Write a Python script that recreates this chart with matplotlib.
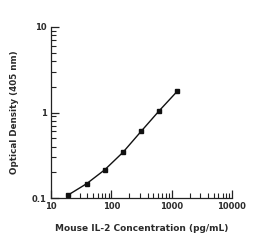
import numpy as np
import matplotlib
matplotlib.use("Agg")
import matplotlib.pyplot as plt
from matplotlib.ticker import LogLocator, NullFormatter, FixedLocator, FixedFormatter

# standard curve (pg/mL vs OD 405 nm)
conc = [19.5, 39, 78, 156, 312.5, 625, 1250]
od = [0.109, 0.147, 0.214, 0.342, 0.602, 1.05, 1.78]

xticks = [10, 100, 1000, 10000]
xlabels = ["10", "100", "1000", "10000"]
yticks = [0.1, 1, 10]
ylabels = ["0.1", "1", "10"]

plt.rcParams['font.family'] = ['DejaVu Sans']
txt = '#2b2b2b'

fig = plt.figure(figsize=(2.54, 2.5), dpi=100)
ax = fig.add_axes([0.2008, 0.208, 0.712, 0.684])

ax.plot(conc, od, color='#111111', lw=1.0, marker='s', ms=2.7)

ax.set_xscale('log')
ax.set_yscale('log')
ax.set_xlim(10, 10000)
ax.set_ylim(0.1, 10)

ax.xaxis.set_major_locator(FixedLocator(xticks))
ax.xaxis.set_major_formatter(FixedFormatter(xlabels))
ax.yaxis.set_major_locator(FixedLocator(yticks))
ax.yaxis.set_major_formatter(FixedFormatter(ylabels))
ax.xaxis.set_minor_locator(LogLocator(base=10, subs=np.arange(2, 10)))
ax.yaxis.set_minor_locator(LogLocator(base=10, subs=np.arange(2, 10)))
ax.xaxis.set_minor_formatter(NullFormatter())
ax.yaxis.set_minor_formatter(NullFormatter())

ax.spines['top'].set_visible(False)
ax.spines['right'].set_visible(False)
for s in ['left', 'bottom']:
    ax.spines[s].set_linewidth(0.9)
    ax.spines[s].set_color('#222222')

ax.tick_params(which='major', direction='in', length=6, width=0.9, labelsize=6,
               pad=3, colors='#222222', labelcolor=txt)
ax.tick_params(which='minor', direction='in', length=3.5, width=0.8, colors='#222222')
for lab in ax.get_xticklabels() + ax.get_yticklabels():
    lab.set_fontweight('bold')

ax.set_xlabel('Mouse IL-2 Concentration (pg/mL)', fontsize=6.5, fontweight='bold',
              color=txt, labelpad=9)
ax.set_ylabel('Optical Density (405 nm)', fontsize=6.3, fontweight='bold',
              color=txt, labelpad=9)

fig.savefig('out.png', dpi=100)
